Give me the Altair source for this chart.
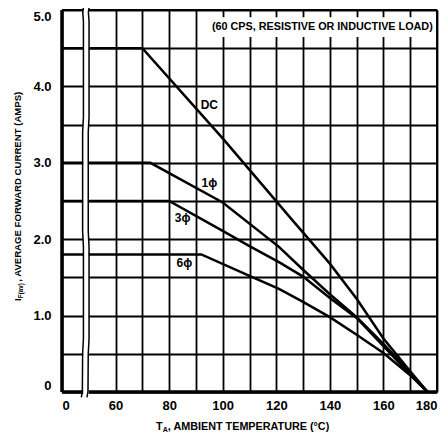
import altair as alt
import pandas as pd

# ---- data ----
T_DC = [40, 70, 100, 126, 140, 150, 160, 170, 176.5]
I_DC = [4.5, 4.5, 3.32, 2.25, 1.68, 1.22, 0.70, 0.27, 0.0]

T_1P = [40, 73, 100, 121, 130, 140, 150, 160, 170, 176.5]
I_1P = [3.0, 3.0, 2.48, 1.90, 1.60, 1.28, 0.98, 0.63, 0.25, 0.0]

T_3P = [40, 80, 100, 110, 121, 130, 140, 150, 160, 170, 176.5]
I_3P = [2.5, 2.5, 2.11, 1.91, 1.70, 1.51, 1.23, 0.97, 0.60, 0.23, 0.0]

T_6P = [40, 92, 110, 121, 130, 140, 150, 160, 170, 176.5]
I_6P = [1.8, 1.8, 1.52, 1.35, 1.18, 0.98, 0.75, 0.51, 0.22, 0.0]

SERIES = ["DC", "1ϕ", "3ϕ", "6ϕ"]
LABEL_T = [95, 95, 85, 85.7]
LABEL_I = [3.76, 2.74, 2.28, 1.69]

NOTE = "(60 CPS, RESISTIVE OR INDUCTIVE LOAD)"
X_TICKS = [40, 60, 70, 80, 90, 100, 110, 120, 130, 140, 150, 160, 170, 180]
Y_TICKS = [0, 0.5, 1, 1.5, 2, 2.5, 3, 3.5, 4, 4.5, 5]

# axis break decoration (wavy double line between "0" and 50)
BRK_Y = [5.09, 4.97, 4.85, 3.6, 3.4, 2.1, 1.9, 0.7, 0.5, 0.0, -0.07]
BRK_DX = [0.35, -0.15, 0.1, 0.1, -0.2, -0.2, 0.1, 0.1, -0.2, -0.3, -0.7]

rows = []
for name, ts, vals in zip(SERIES, [T_DC, T_1P, T_3P, T_6P], [I_DC, I_1P, I_3P, I_6P]):
    for k, (t, v) in enumerate(zip(ts, vals)):
        rows.append({"series": name, "T": t, "I": v, "k": k})
curves = pd.DataFrame(rows)
labels = pd.DataFrame({"series": SERIES, "T": LABEL_T, "I": LABEL_I})

brk_rows = []
for side, x0 in [("L", 47.9), ("R", 50.0)]:
    for k, (yy, dx) in enumerate(zip(BRK_Y, BRK_DX)):
        brk_rows.append({"side": side, "T": x0 + dx, "I": yy, "k": k})
brk = pd.DataFrame(brk_rows)

FONT = "Liberation Sans, Arial, sans-serif"

xs = alt.Scale(domain=[40, 180], nice=False, zero=False)
ys = alt.Scale(domain=[0, 5], nice=False, zero=False)

x_axis = alt.Axis(
    values=X_TICKS,
    labelExpr="datum.value == 40 ? '0' : (datum.value % 20 == 0 ? datum.value : '')",
    grid=True, ticks=False, domain=False, title=None,
    labelFont=FONT, labelFontWeight="bold", labelFontSize=13, labelColor="black",
    labelPadding=7, gridColor="black", gridWidth=1.8, gridOpacity=1,
)
y_axis = alt.Axis(
    values=Y_TICKS,
    labelExpr="datum.value == 0 ? '0' : (datum.value % 1 == 0 ? format(datum.value, '.1f') : '')",
    grid=True, ticks=False, domain=False, title=None, labelFlush=True,
    labelFont=FONT, labelFontWeight="bold", labelFontSize=13, labelColor="black",
    labelPadding=11, gridColor="black", gridWidth=1.8, gridOpacity=1,
)

X = lambda f="T": alt.X(f"{f}:Q", scale=xs, axis=x_axis)
Y = lambda f="I": alt.Y(f"{f}:Q", scale=ys, axis=y_axis)

lines = alt.Chart(curves).mark_line(color="black", strokeWidth=2.5, clip=False).encode(
    x=X(), y=Y(), detail="series:N", order="k:Q"
)

# borders
one = pd.DataFrame({"a": [0]})
left = alt.Chart(one).mark_rule(color="black", strokeWidth=3.5).encode(
    x=alt.datum(40, scale=xs, axis=x_axis), y=alt.datum(0, scale=ys, axis=y_axis), y2=alt.datum(5))
bottom = alt.Chart(one).mark_rule(color="black", strokeWidth=3.5).encode(
    y=alt.datum(0, scale=ys, axis=y_axis), x=alt.datum(40, scale=xs, axis=x_axis), x2=alt.datum(180))
top = alt.Chart(one).mark_rule(color="black", strokeWidth=1.9).encode(
    y=alt.datum(5, scale=ys, axis=y_axis), x=alt.datum(40, scale=xs, axis=x_axis), x2=alt.datum(180))
right = alt.Chart(one).mark_rule(color="black", strokeWidth=1.9).encode(
    x=alt.datum(180, scale=xs, axis=x_axis), y=alt.datum(0, scale=ys, axis=y_axis), y2=alt.datum(5))

# white gap of the axis break
gap = alt.Chart(one).mark_rect(color="white").encode(
    x=alt.datum(47.9, scale=xs, axis=x_axis), x2=alt.datum(50.0),
    y=alt.datum(-0.12, scale=ys, axis=y_axis), y2=alt.datum(5.12))
brk_lines = alt.Chart(brk).mark_line(color="black", strokeWidth=1.5, clip=False).encode(
    x=X(), y=Y(), detail="side:N", order="k:Q")

# note box
note_box = alt.Chart(one).mark_rect(color="white").encode(
    x=alt.datum(93.5, scale=xs, axis=x_axis), x2=alt.datum(179.3),
    y=alt.datum(4.645, scale=ys, axis=y_axis), y2=alt.datum(4.905))
note = alt.Chart(pd.DataFrame({"t": [NOTE], "T": [137.2], "I": [4.775]})).mark_text(
    font=FONT, fontWeight="bold", fontSize=10.8, color="black", baseline="middle"
).encode(x=X(), y=Y(), text="t:N")

curve_labels = alt.Chart(labels).mark_text(
    font=FONT, fontWeight="bold", fontSize=12, color="black", baseline="middle"
).encode(x=X(), y=Y(), text="series:N")

# axis titles with subscripts (pixel placement relative to plot area)
def txt(s, x, y, size, angle=0, align="left"):
    return alt.Chart(pd.DataFrame({"s": [s]})).mark_text(
        font=FONT, fontWeight="bold", fontSize=size, color="black",
        align=align, baseline="middle", angle=angle
    ).encode(x=alt.value(x), y=alt.value(y), text="s:N")

xt = [
    txt("T", 94, 417, 10.8),
    txt("A", 100.8, 420, 7),
    txt(", AMBIENT TEMPERATURE (°C)", 105.8, 417, 10.8),
]
yt = [
    txt("I", -44, 291, 9.6, angle=270),
    txt("F(av)", -41.5, 288.2, 6.3, angle=270),
    txt(", AVERAGE FORWARD CURRENT (AMPS)", -44, 271.8, 9.6, angle=270),
]

chart = alt.layer(
    lines, top, right, left, bottom, gap, brk_lines, note_box, note, curve_labels, *xt, *yt
).properties(
    width=375, height=382,
    padding={"left": 54, "top": 2, "right": 3, "bottom": 45},
    autosize=alt.AutoSizeParams(type="none"),
).configure_view(stroke=None).configure(background="white")

chart.save("out.html", embed_options={"renderer": "svg", "actions": False})
